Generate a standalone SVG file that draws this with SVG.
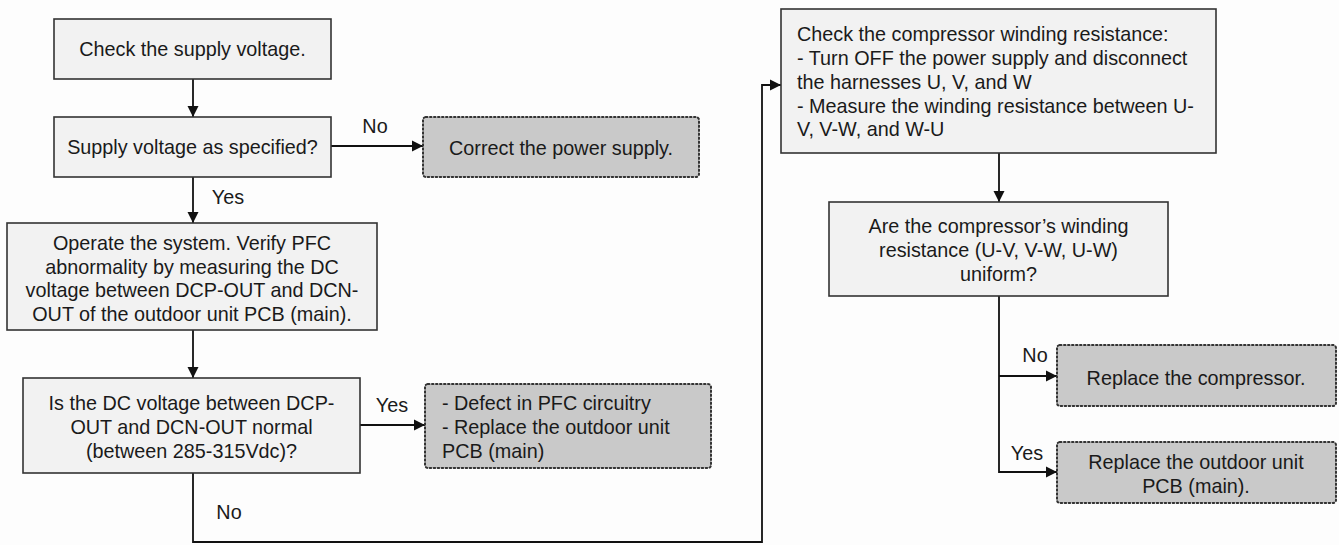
<svg xmlns="http://www.w3.org/2000/svg" width="1339" height="545" viewBox="0 0 1339 545">
<style>
.box{fill:#f2f2f2;stroke:#333;stroke-width:1.6}
.term{fill:#c9c9c9;stroke:#333;stroke-width:2;stroke-dasharray:1.5 2.5;stroke-linecap:round}
text{font-family:"Liberation Sans",Arial,sans-serif;font-size:19.8px;fill:#1a1a1a}
.c{text-anchor:middle}
.line{fill:none;stroke:#111;stroke-width:1.8}
</style>
<defs>
<marker id="ah" markerUnits="userSpaceOnUse" markerWidth="12" markerHeight="12" refX="11" refY="6" orient="auto">
<path d="M0,0.5 L11,6 L0,11.5 z" fill="#111"/>
</marker>
</defs>
<rect width="1339" height="545" fill="#fdfdfd"/>
<g id="connectors">
<line class="line" x1="193" y1="79" x2="193" y2="117" marker-end="url(#ah)"/>
<line class="line" x1="331" y1="146" x2="423" y2="146" marker-end="url(#ah)"/>
<line class="line" x1="193" y1="177" x2="193" y2="223" marker-end="url(#ah)"/>
<line class="line" x1="193" y1="330" x2="193" y2="378" marker-end="url(#ah)"/>
<line class="line" x1="360" y1="425" x2="425" y2="425" marker-end="url(#ah)"/>
<polyline class="line" points="193,473 193,542 762,542 762,85 781,85" marker-end="url(#ah)"/>
<line class="line" x1="999" y1="153" x2="999" y2="202" marker-end="url(#ah)"/>
<polyline class="line" points="999,296 999,472 1057,472" marker-end="url(#ah)"/>
<polyline class="line" points="999,376 1057,376" marker-end="url(#ah)"/>
<text x="375" y="133" class="c">No</text>
<text x="228" y="204" class="c">Yes</text>
<text x="392" y="412" class="c">Yes</text>
<text x="229" y="519" class="c">No</text>
<text x="1035" y="362" class="c">No</text>
<text x="1027" y="460" class="c">Yes</text>
</g>
<g id="n1">
<rect class="box" x="54" y="19" width="277" height="60"/>
<text x="192.5" y="56" class="c">Check the supply voltage.</text>
</g>
<g id="n2">
<rect class="box" x="54" y="117" width="277" height="60"/>
<text x="192.5" y="154" class="c">Supply voltage as specified?</text>
</g>
<g id="n3">
<rect class="term" x="423" y="117" width="276" height="60" rx="3"/>
<text x="561" y="155" class="c">Correct the power supply.</text>
</g>
<g id="n4">
<rect class="box" x="7" y="223" width="370" height="107"/>
<text class="c"><tspan x="192" y="250">Operate the system. Verify PFC</tspan><tspan x="192" y="273.5">abnormality by measuring the DC</tspan><tspan x="192" y="297">voltage between DCP-OUT and DCN-</tspan><tspan x="192" y="320.5">OUT of the outdoor unit PCB (main).</tspan></text>
</g>
<g id="n5">
<rect class="box" x="23" y="378" width="337" height="95"/>
<text class="c"><tspan x="191.5" y="410">Is the DC voltage between DCP-</tspan><tspan x="191.5" y="434">OUT and DCN-OUT normal</tspan><tspan x="191.5" y="458">(between 285-315Vdc)?</tspan></text>
</g>
<g id="n6">
<rect class="term" x="425" y="384" width="286" height="84" rx="3"/>
<text><tspan x="442" y="410">- Defect in PFC circuitry</tspan><tspan x="442" y="434">- Replace the outdoor unit</tspan><tspan x="442" y="458">PCB (main)</tspan></text>
</g>
<g id="n7">
<rect class="box" x="781" y="9" width="435" height="144"/>
<text><tspan x="797" y="41">Check the compressor winding resistance:</tspan><tspan x="797" y="65">- Turn OFF the power supply and disconnect</tspan><tspan x="797" y="89">the harnesses U, V, and W</tspan><tspan x="797" y="113">- Measure the winding resistance between U-</tspan><tspan x="797" y="136">V, V-W, and W-U</tspan></text>
</g>
<g id="n8">
<rect class="box" x="829" y="202" width="339" height="94"/>
<text class="c"><tspan x="998.5" y="233">Are the compressor’s winding</tspan><tspan x="998.5" y="257">resistance (U-V, V-W, U-W)</tspan><tspan x="998.5" y="281">uniform?</tspan></text>
</g>
<g id="n9">
<rect class="term" x="1057" y="345" width="279" height="61" rx="3"/>
<text x="1196" y="385" class="c">Replace the compressor.</text>
</g>
<g id="n10">
<rect class="term" x="1057" y="442" width="279" height="61" rx="3"/>
<text class="c"><tspan x="1196" y="469">Replace the outdoor unit</tspan><tspan x="1196" y="493">PCB (main).</tspan></text>
</g>
</svg>
